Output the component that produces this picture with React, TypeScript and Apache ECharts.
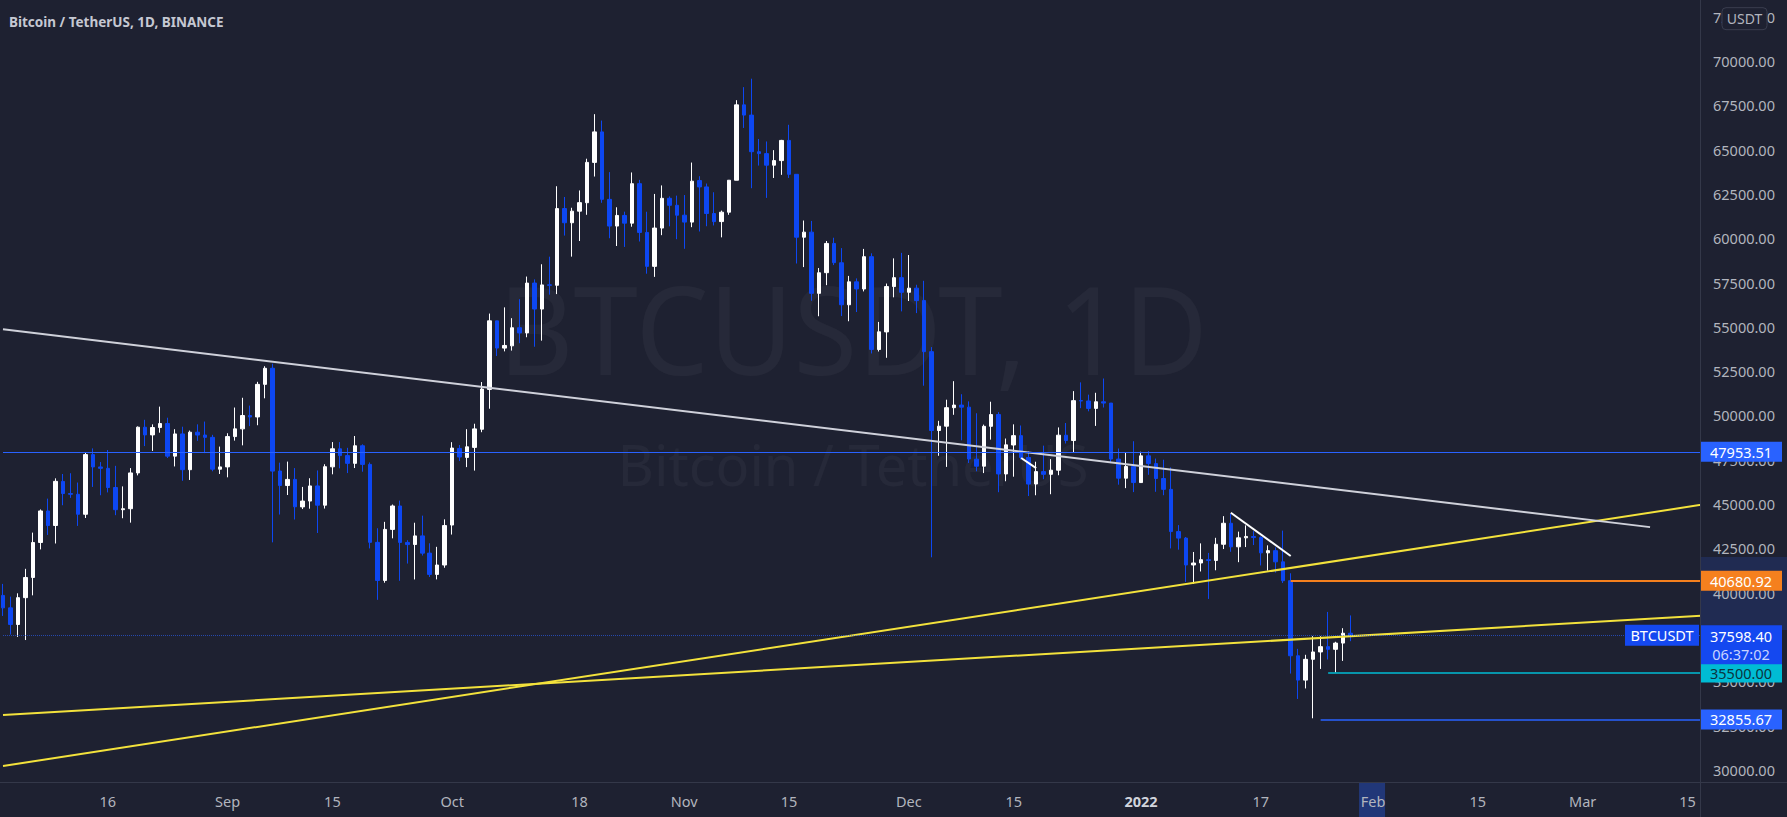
import React, { useEffect, useRef } from 'react';
import * as echarts from 'echarts';

const W = 1787;
const H = 817;
const GRID_RIGHT = 87;
const GRID_BOTTOM = 35;
const BG = '#1e2131';
const FONT = '"Noto Sans", Roboto, "DejaVu Sans", sans-serif';
const UP = '#ffffff';
const DOWN = '#0d47f2';
const AXIS_TEXT = '#b2b5be';

// ---------- data ----------
const firstDate = '2021-08-02';
const axisSpanDays = 226.67;

const opens = [
  39850, 39147, 38208, 39723, 40862, 42836, 44614, 43794, 46280, 45597, 45555, 44428, 47793, 47097, 47019, 45937, 44686, 44741, 46760, 49339, 48905, 49321, 49546, 47707, 48960, 46942, 49058, 48897, 48767, 46970,
  47100, 48810, 49246, 49999, 49917, 51756, 52666, 46868, 46048, 46395, 44843, 45173, 46026, 44940, 47104, 48122, 47737, 47299, 48292, 47241, 42843, 40694, 43574, 44895, 42840, 42721, 43208, 42236, 41034, 41564,
  43820, 48141, 47634, 48201, 49224, 51471, 55339, 53802, 53930, 54953, 54659, 57472, 56005, 57370, 57347, 61673, 60875, 61528, 62005, 64280, 66001, 62193, 60688, 61286, 60852, 63079, 60328, 58413, 60575, 62253, 61859,
  61300, 60911, 63254, 62896, 61396, 60940, 61470, 63273, 67525, 66947, 64882, 64774, 64122, 64380, 65519, 63606, 60059, 60345, 56892, 58057, 59707, 58617, 56247, 57541, 57138, 58960, 53723, 54716, 57274, 57776,
  56951, 57185, 56484, 53601, 49152, 49397, 50441, 50588, 50471, 47535, 47141, 49389, 50054, 46702, 48336, 48864, 47632, 46134, 46835, 46682, 46914, 48887, 48588, 50839, 50820, 50400, 50775, 50701, 47543, 46464, 47120,
  46216, 47723, 47286, 46446, 45833, 43451, 43082, 41567, 41680, 41864, 41822, 42735, 43920, 42592, 43099, 43172, 43118, 42250, 42375, 41744, 40680.92, 36445, 35071, 36244, 36660, 36958, 36808, 37160, 37716,
];
const highs = [
  40499, 39780, 39969, 41350, 43392, 44700, 45310, 46454, 46700, 46743, 46218, 47886, 48144, 47372, 48053, 47160, 46000, 47033, 49382, 49757, 49500, 50500, 49875, 49226, 49368, 49150, 49500, 49658, 48910, 48246,
  48999, 50450, 51000, 50558, 51900, 52780, 52920, 47340, 47400, 47033, 45970, 46460, 46900, 47250, 48500, 48500, 48176, 48843, 48373, 47350, 43639, 44000, 44978, 45200, 42966, 43950, 44350, 42790, 42590, 44141,
  48495, 48336, 49228, 49536, 51887, 55750, 55340, 56100, 55490, 56561, 57839, 57680, 58532, 58960, 62934, 62328, 61720, 62696, 64486, 67000, 66639, 63732, 61747, 61500, 63711, 63293, 61496, 62499, 62980, 62359, 62405,
  62437, 64270, 63500, 63086, 62595, 61560, 63286, 67789, 68524, 69000, 65600, 65460, 64971, 65550, 66401, 63617, 61000, 60977, 58320, 59845, 60029, 59444, 57875, 57735, 59398, 59150, 55280, 57445, 58865, 59176,
  59053, 57376, 57600, 53859, 49699, 50891, 51936, 51200, 50797, 50125, 49485, 50777, 50189, 48700, 49500, 49436, 47995, 47392, 48300, 47537, 49328, 49576, 51375, 51868, 51176, 51281, 52088, 50704, 48139, 47900, 48548,
  47954, 47990, 47570, 47505, 47070, 43816, 43145, 42300, 42786, 42248, 43100, 44322, 44459, 43448, 43800, 43476, 43180, 42675, 42560, 43505, 41100, 36835, 36499, 37550, 37545, 38919, 37234, 38000, 38720,
];
const lows = [
  38690, 37642, 37508, 37332, 39853, 42446, 43261, 42779, 44936, 45351, 43771, 44217, 45971, 45500, 45660, 44376, 44203, 43955, 46622, 48273, 48003, 49030, 47600, 47126, 46315, 46363, 48570, 47876, 46853, 46700,
  46512, 48584, 48316, 49400, 49450, 50969, 42843, 44412, 45513, 44132, 44722, 44742, 43370, 44750, 46682, 47020, 46751, 47035, 46829, 42500, 39600, 40565, 43070, 40675, 41646, 40750, 42098, 40888, 40753, 41410,
  43283, 47430, 47088, 46891, 49057, 50382, 53357, 53617, 53661, 54080, 54415, 53879, 54223, 56818, 56850, 60150, 58963, 59844, 61322, 63481, 62000, 60000, 59562, 59510, 60650, 59817, 58000, 57820, 60174, 60673, 59945,
  59405, 60624, 60382, 60677, 60721, 60050, 61322, 63273, 66222, 62822, 64100, 62278, 63400, 63576, 63400, 58575, 58373, 56474, 55600, 57353, 58486, 55610, 55317, 55837, 57000, 53500, 53610, 53256, 56666, 55875,
  56458, 55777, 51680, 42000, 47727, 47100, 50039, 48600, 47320, 46852, 46751, 48638, 45672, 46290, 46547, 47511, 45456, 45500, 46406, 45558, 46630, 48421, 47920, 50414, 50236, 49412, 50449, 47313, 46096, 45901, 45678,
  46208, 46654, 45696, 45502, 42500, 42430, 40610, 40501, 41200, 39650, 41268, 42465, 42311, 41725, 42578, 42691, 41540, 41250, 41138, 40553, 35440, 34008, 34601, 32917, 35701, 36234, 35507, 36155, 37268,
];
const closes = [
  39147, 38207, 39723, 40862, 42836, 44614, 43792, 46285, 45596, 45555, 44428, 47793, 47097, 47019, 45937, 44686, 44741, 46760, 49339, 48905, 49321, 49546, 47707, 48960, 46942, 49058, 48897, 48767, 46970, 47100,
  48810, 49246, 49999, 49915, 51756, 52663, 46863, 46048, 46395, 44850, 45173, 46026, 44940, 47111, 48122, 47737, 47299, 48292, 47241, 42843, 40693, 43574, 44895, 42839, 42716, 43208, 42235, 41034, 41564, 43790,
  48165, 47657, 48233, 49245, 51493, 55340, 53805, 53951, 54950, 54659, 57471, 56005, 57367, 57347, 61672, 60875, 61528, 62009, 64280, 66001, 62193, 60688, 61286, 60852, 63078, 60328, 58413, 60575, 62253, 61859, 61300,
  60911, 63219, 62896, 61395, 60937, 61470, 63273, 67525, 66947, 64882, 64774, 64122, 64380, 65519, 63606, 60058, 60344, 56891, 58052, 59707, 58622, 56247, 57541, 57138, 58960, 53726, 54721, 57274, 57776, 56950,
  57184, 56480, 53601, 49152, 49396, 50441, 50588, 50471, 47545, 47140, 49389, 50053, 46702, 48343, 48864, 47632, 46131, 46834, 46681, 46914, 48889, 48588, 50838, 50820, 50400, 50775, 50701, 47543, 46464, 47120, 46216,
  47722, 47286, 46446, 45833, 43451, 43082, 41566, 41679, 41864, 41822, 42736, 43920, 42591, 43099, 43177, 43113, 42250, 42375, 41744, 40680.92, 36445, 35071, 36244, 36660, 36958, 36809, 37160, 37716, 37598.4,
];

const tickDates = ['2021-08-16', '2021-09-01', '2021-09-15', '2021-10-01', '2021-10-18', '2021-11-01', '2021-11-15', '2021-12-01', '2021-12-15', '2022-01-01', '2022-01-17', '2022-02-01', '2022-02-15', '2022-03-01', '2022-03-15'];
const tickTexts = ['16', 'Sep', '15', 'Oct', '18', 'Nov', '15', 'Dec', '15', '2022', '17', 'Feb', '15', 'Mar', '15'];
const boldTickTexts = ['2022'];

const priceTicks = [30000, 32500, 35000, 37500, 40000, 42500, 45000, 47500, 50000, 52500, 55000, 57500, 60000, 62500, 65000, 67500, 70000, 72500];
const priceMin = 29323;
const priceMax = 73441;

const symbolName = 'BTCUSDT';
const title = 'Bitcoin / TetherUS, 1D, BINANCE';
const watermarkMain = 'BTCUSDT, 1D';
const watermarkSub = 'Bitcoin / TetherUS';
const quoteCurrency = 'USDT';
const lastPrice = 37598.4;
const countdown = '06:37:02';

// horizontal levels
const resistanceLevel = 47953.51;
const breakdownLevel = 40680.92;
const breakdownStart = '2022-01-21';
const supportLevel = 35500;
const supportStart = '2022-01-26';
const lowLevel = 32855.67;
const lowStart = '2022-01-25';

// trend lines: [date, price] anchor pairs
const yellowSteep: [string, number][] = [['2021-08-02', 30226], ['2022-03-18', 45037]];
const yellowShallow: [string, number][] = [['2021-08-02', 33103], ['2022-03-18', 38737]];
const whiteLong: [string, number][] = [['2021-08-02', 54863], ['2022-03-10', 43702]];
const whiteShort: [string, number][] = [['2022-01-13', 44516], ['2022-01-21', 42073]];
const whiteTiny: [string, number][] = [['2021-12-16', 47600], ['2021-12-18', 47030]];

// selected drawing highlights
const highlightPriceRange = [37900, 42020];
const highlightDate = '2022-02-01';

// ---------- helpers ----------
const DAY0 = Date.UTC(2021, 7, 1);
const dayIndex = (s: string) => {
  const [y, m, d] = s.split('-').map(Number);
  return Math.round((Date.UTC(y, m - 1, d) - DAY0) / 86400000);
};
const X_MIN = dayIndex(firstDate);
const X_MAX = X_MIN + axisSpanDays;

const labelMap: Record<number, string> = {};
tickDates.forEach((d, i) => { labelMap[dayIndex(d)] = tickTexts[i]; });

const candleData = opens.map((o, i) => [X_MIN + i, o, closes[i], lows[i], highs[i]]);
const toLine = (pts: [string, number][]) => pts.map(([d, v]) => [dayIndex(d), v]);

const badge = (value: number, text: string, bg: string, fg: string) => ({
  coord: [X_MAX, value],
  value,
  symbol: 'rect',
  symbolSize: [82, 20],
  symbolOffset: [41, 0],
  itemStyle: { color: bg },
  label: { show: true, position: 'inside', formatter: text, color: fg, fontSize: 14.5, fontFamily: FONT },
});

const lineSeries = (pts: [string, number][], color: string, width: number) => ({
  type: 'line',
  data: toLine(pts),
  showSymbol: false,
  symbol: 'none',
  silent: true,
  clip: true,
  z: 3,
  lineStyle: { color, width },
});

function buildOption(): any {
  return {
    animation: false,
    backgroundColor: BG,
    grid: { left: 0, right: GRID_RIGHT, top: 0, bottom: GRID_BOTTOM, containLabel: false },
    xAxis: {
      type: 'value',
      min: X_MIN,
      max: X_MAX,
      interval: 1,
      axisLine: { show: false },
      axisTick: { show: false },
      splitLine: { show: false },
      axisLabel: {
        show: true,
        margin: 11,
        color: AXIS_TEXT,
        fontSize: 14.5,
        fontFamily: FONT,
        formatter: (v: number) => {
          const k = Math.round(v);
          if (Math.abs(v - k) > 1e-6) return '';
          const t = labelMap[k];
          if (!t) return '';
          return boldTickTexts.includes(t) ? `{b|${t}}` : t;
        },
        rich: { b: { fontWeight: 'bold', color: '#d1d4dc', fontSize: 14.5, fontFamily: FONT } },
      },
    },
    yAxis: {
      type: 'value',
      position: 'right',
      min: priceMin,
      max: priceMax,
      axisLine: { show: false },
      axisTick: { show: false },
      splitLine: { show: false },
      axisLabel: {
        customValues: priceTicks,
        margin: 13,
        color: AXIS_TEXT,
        fontSize: 14.5,
        fontFamily: FONT,
        formatter: (v: number) => v.toFixed(2),
      },
    },
    series: [
      {
        type: 'candlestick',
        name: symbolName,
        data: candleData,
        encode: { x: 0, y: [1, 2, 3, 4] },
        barWidth: 4,
        z: 2,
        itemStyle: { color: UP, color0: DOWN, borderColor: UP, borderColor0: DOWN, borderWidth: 1 },
        markLine: {
          silent: true,
          symbol: ['none', 'none'],
          label: { show: false },
          animation: false,
          data: [
            { yAxis: resistanceLevel, lineStyle: { color: '#2962ff', width: 1, type: 'solid' } },
            { yAxis: lastPrice, lineStyle: { color: '#2962ff', width: 1, type: 'dotted', opacity: 0.6 } },
            [
              { coord: [dayIndex(breakdownStart), breakdownLevel], lineStyle: { color: '#f5801e', width: 2, type: 'solid' } },
              { coord: [X_MAX, breakdownLevel], lineStyle: { color: '#f5801e', width: 2, type: 'solid' } },
            ],
            [
              { coord: [dayIndex(supportStart), supportLevel], lineStyle: { color: '#00bcd4', width: 1.5, type: 'solid' } },
              { coord: [X_MAX, supportLevel], lineStyle: { color: '#00bcd4', width: 1.5, type: 'solid' } },
            ],
            [
              { coord: [dayIndex(lowStart), lowLevel], lineStyle: { color: '#2962ff', width: 1.5, type: 'solid' } },
              { coord: [X_MAX, lowLevel], lineStyle: { color: '#2962ff', width: 1.5, type: 'solid' } },
            ],
          ],
        },
        markPoint: {
          silent: true,
          animation: false,
          data: [
            badge(resistanceLevel, resistanceLevel.toFixed(2), '#2962ff', '#ffffff'),
            badge(breakdownLevel, breakdownLevel.toFixed(2), '#f5801e', '#ffffff'),
            badge(supportLevel, supportLevel.toFixed(2), '#00bcd4', '#0b3540'),
            badge(lowLevel, lowLevel.toFixed(2), '#2962ff', '#ffffff'),
            {
              coord: [X_MAX, lastPrice],
              value: lastPrice,
              symbol: 'rect',
              symbolSize: [82, 39],
              symbolOffset: [41, 9.5],
              itemStyle: { color: '#1448f0' },
              label: {
                show: true,
                position: 'inside',
                formatter: `{a|${lastPrice.toFixed(2)}}\n{b|${countdown}}`,
                rich: {
                  a: { color: '#ffffff', fontSize: 14.5, lineHeight: 18, fontFamily: FONT },
                  b: { color: '#c9d4ff', fontSize: 14.5, lineHeight: 18, fontFamily: FONT },
                },
              },
            },
            {
              coord: [X_MAX, lastPrice],
              value: lastPrice,
              symbol: 'rect',
              symbolSize: [74, 21],
              symbolOffset: [-38, 0],
              itemStyle: { color: '#1448f0' },
              label: { show: true, position: 'inside', formatter: symbolName, color: '#ffffff', fontSize: 14.5, fontFamily: FONT },
            },
          ],
        },
      },
      lineSeries(yellowSteep, '#f3e23c', 2),
      lineSeries(yellowShallow, '#f3e23c', 2),
      lineSeries(whiteLong, '#cfd1da', 2),
      lineSeries(whiteShort, '#ffffff', 2),
      lineSeries(whiteTiny, '#ffffff', 2),
    ],
  };
}

export default function App() {
  const ref = useRef<HTMLDivElement>(null);
  useEffect(() => {
    document.body.style.margin = '0';
    document.body.style.background = BG;
    const el = ref.current!;
    const chart = echarts.init(el, null, { renderer: 'svg', width: W, height: H });
    chart.setOption(buildOption());

    const plotRight = W - GRID_RIGHT;
    const plotBottom = H - GRID_BOTTOM;
    const yPix = (v: number) => chart.convertToPixel({ yAxisIndex: 0 }, v) as number;
    const xPix = (v: number) => chart.convertToPixel({ xAxisIndex: 0 }, v) as number;
    const hy1 = yPix(highlightPriceRange[1]);
    const hy0 = yPix(highlightPriceRange[0]);
    const hx = xPix(dayIndex(highlightDate));
    const usdtY = yPix(priceTicks[priceTicks.length - 1]);
    const cx = plotRight / 2 + 3;

    chart.setOption({
      graphic: {
        elements: [
          {
            type: 'text', x: cx, y: 328, scaleX: 0.95, z: -1, silent: true,
            style: { text: watermarkMain, fill: 'rgba(255,255,255,0.04)', fontSize: 122, fontFamily: FONT, align: 'center', verticalAlign: 'middle' },
          },
          {
            type: 'text', x: cx, y: 464, z: -1, silent: true,
            style: { text: watermarkSub, fill: 'rgba(255,255,255,0.04)', fontSize: 56, fontFamily: FONT, align: 'center', verticalAlign: 'middle' },
          },
          {
            type: 'rect', z: -1, silent: true,
            shape: { x: plotRight, y: hy1, width: GRID_RIGHT, height: hy0 - hy1 },
            style: { fill: 'rgba(41,98,255,0.16)' },
          },
          {
            type: 'rect', z: -1, silent: true,
            shape: { x: hx - 14, y: plotBottom, width: 26, height: GRID_BOTTOM },
            style: { fill: 'rgba(41,98,255,0.35)' },
          },
          {
            type: 'line', z: 5, silent: true,
            shape: { x1: plotRight + 0.5, y1: 0, x2: plotRight + 0.5, y2: H },
            style: { stroke: '#343849', lineWidth: 1 },
          },
          {
            type: 'line', z: 5, silent: true,
            shape: { x1: 0, y1: plotBottom + 0.5, x2: W, y2: plotBottom + 0.5 },
            style: { stroke: '#343849', lineWidth: 1 },
          },
          {
            type: 'text', x: 9, y: 21.5, z: 10, silent: true,
            style: { text: title, fill: '#c5c8d2', fontSize: 13.5, fontWeight: 'bold', fontFamily: FONT, align: 'left', verticalAlign: 'middle' },
          },
          {
            type: 'rect', z: 10, silent: true,
            shape: { x: plotRight + 22, y: usdtY - 9, width: 45, height: 22, r: 4 },
            style: { fill: BG, stroke: '#3a3e4f', lineWidth: 1 },
          },
          {
            type: 'text', x: plotRight + 44.5, y: usdtY + 2, z: 11, silent: true,
            style: { text: quoteCurrency, fill: AXIS_TEXT, fontSize: 14, fontFamily: FONT, align: 'center', verticalAlign: 'middle' },
          },
        ],
      },
    });
    return () => chart.dispose();
  }, []);
  return <div ref={ref} style={{ position: 'absolute', left: 0, top: 0, width: W, height: H, background: BG }} />;
}
